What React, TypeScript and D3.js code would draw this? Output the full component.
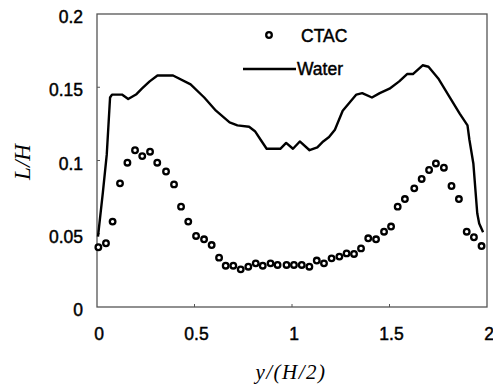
import React from "react";
import * as d3 from "d3";

// Water (line) profile: y/(H/2) positions and L/H values
const waterX = [0.005, 0.03, 0.05, 0.067, 0.077, 0.128, 0.16, 0.2, 0.23, 0.27, 0.31, 0.39, 0.48, 0.55, 0.61, 0.68, 0.72, 0.78, 0.81, 0.84, 0.87, 0.94, 0.97, 1.005, 1.04, 1.09, 1.13, 1.16, 1.19, 1.22, 1.26, 1.33, 1.36, 1.41, 1.45, 1.5, 1.55, 1.59, 1.62, 1.67, 1.7, 1.75, 1.81, 1.86, 1.9, 1.91, 1.93, 1.95, 1.96, 1.98];
const waterL = [0.048, 0.078, 0.104, 0.143, 0.145, 0.145, 0.142, 0.145, 0.149, 0.154, 0.158, 0.158, 0.152, 0.143, 0.134, 0.126, 0.124, 0.123, 0.12, 0.114, 0.108, 0.108, 0.112, 0.108, 0.113, 0.107, 0.109, 0.113, 0.116, 0.121, 0.134, 0.145, 0.146, 0.143, 0.146, 0.149, 0.154, 0.159, 0.159, 0.165, 0.164, 0.156, 0.143, 0.132, 0.124, 0.114, 0.098, 0.064, 0.057, 0.051];

// CTAC (circles) profile
const ctacX = [0.007, 0.046, 0.08, 0.118, 0.156, 0.195, 0.232, 0.272, 0.309, 0.354, 0.395, 0.431, 0.468, 0.508, 0.549, 0.588, 0.626, 0.66, 0.699, 0.737, 0.776, 0.814, 0.85, 0.89, 0.926, 0.972, 1.01, 1.05, 1.089, 1.127, 1.164, 1.203, 1.243, 1.28, 1.318, 1.354, 1.391, 1.431, 1.472, 1.508, 1.542, 1.579, 1.627, 1.665, 1.703, 1.738, 1.779, 1.818, 1.856, 1.896, 1.933, 1.972];
const ctacL = [0.0408, 0.0435, 0.0583, 0.0844, 0.0985, 0.107, 0.103, 0.106, 0.0985, 0.0925, 0.0837, 0.0685, 0.0583, 0.0485, 0.0462, 0.0423, 0.0337, 0.0282, 0.0282, 0.0257, 0.0275, 0.0298, 0.0282, 0.0298, 0.0287, 0.0287, 0.0287, 0.0287, 0.0275, 0.0317, 0.0298, 0.0332, 0.0344, 0.0366, 0.0362, 0.04, 0.0469, 0.0462, 0.0514, 0.0549, 0.0685, 0.0737, 0.081, 0.0874, 0.0935, 0.098, 0.0951, 0.0826, 0.0737, 0.0514, 0.0476, 0.0416];

const xTicks = [0, 0.5, 1, 1.5, 2];
const xTickLabels = ["0", "0.5", "1", "1.5", "2"];
const yTicks = [0, 0.05, 0.1, 0.15, 0.2];
const yTickLabels = ["0", "0.05", "0.1", "0.15", "0.2"];

const W = 493;
const H = 389;
const plot = { left: 97, right: 487, top: 14, bottom: 307 };

export default function App() {
  const x = d3.scaleLinear().domain([0, 2]).range([plot.left, plot.right]);
  const y = d3.scaleLinear().domain([0, 0.2]).range([plot.bottom, plot.top]);

  const water = waterX.map((v, i) => [v, waterL[i]] as [number, number]);
  const ctac = ctacX.map((v, i) => [v, ctacL[i]] as [number, number]);

  const linePath = d3
    .line<[number, number]>()
    .x((d) => x(d[0]))
    .y((d) => y(d[1]))
    .curve(d3.curveLinear)(water) as string;

  const tickFont = "'Liberation Sans', Arial, sans-serif";
  const titleFont = "'Liberation Serif', 'Times New Roman', serif";
  // slight outline gives the labels their heavier print weight
  const labelStyle = { stroke: "#000", strokeWidth: 0.45 };

  return (
    <svg
      width={W}
      height={H}
      viewBox={`0 0 ${W} ${H}`}
      style={{ position: "absolute", left: 0, top: 0, background: "#fff" }}
    >
      {/* plot frame */}
      <rect
        x={plot.left}
        y={plot.top}
        width={plot.right - plot.left}
        height={plot.bottom - plot.top}
        fill="none"
        stroke="#555"
        strokeWidth={1.3}
      />

      {/* inner ticks */}
      {xTicks.slice(1, -1).map((t) => (
        <line key={"xt" + t} x1={x(t)} x2={x(t)} y1={plot.bottom} y2={plot.bottom - 3} stroke="#555" strokeWidth={1} />
      ))}
      {yTicks.slice(1, -1).map((t) => (
        <line key={"yt" + t} x1={plot.left} x2={plot.left + 3} y1={y(t)} y2={y(t)} stroke="#555" strokeWidth={1} />
      ))}

      {/* tick labels */}
      {xTicks.map((t, i) => (
        <text
          key={"xl" + t}
          x={x(t) + 2}
          y={340}
          textAnchor="middle"
          fontFamily={tickFont}
          fontSize={17.5}
          fill="#000"
          style={labelStyle}
        >
          {xTickLabels[i]}
        </text>
      ))}
      {yTicks.map((t, i) => (
        <text
          key={"yl" + t}
          x={83}
          y={y(t) + 9}
          textAnchor="end"
          fontFamily={tickFont}
          fontSize={17.5}
          fill="#000"
          style={labelStyle}
        >
          {yTickLabels[i]}
        </text>
      ))}

      {/* axis titles */}
      <text
        x={291}
        y={379}
        textAnchor="middle"
        fontFamily={titleFont}
        fontStyle="italic"
        fontSize={21}
        letterSpacing={1.5}
        fill="#000"
      >
        y/(H/2)
      </text>
      <text
        transform="translate(30,162) rotate(-90)"
        textAnchor="middle"
        fontFamily={titleFont}
        fontStyle="italic"
        fontSize={23}
        fill="#000"
      >
        L/H
      </text>

      {/* Water line */}
      <path d={linePath} fill="none" stroke="#000" strokeWidth={2.4} strokeLinejoin="round" />

      {/* CTAC circles */}
      {ctac.map((d, i) => (
        <circle key={"c" + i} cx={x(d[0])} cy={y(d[1])} r={2.8} fill="#fff" stroke="#000" strokeWidth={2.3} />
      ))}

      {/* legend */}
      <circle cx={269} cy={35} r={2.8} fill="#fff" stroke="#000" strokeWidth={2.3} />
      <text x={301} y={42} fontFamily={tickFont} fontSize={17.5} fill="#000" style={labelStyle}>
        CTAC
      </text>
      <line x1={243} x2={296} y1={69} y2={69} stroke="#000" strokeWidth={2.4} />
      <text x={297} y={75} fontFamily={tickFont} fontSize={17.5} fill="#000" style={labelStyle}>
        Water
      </text>
    </svg>
  );
}
